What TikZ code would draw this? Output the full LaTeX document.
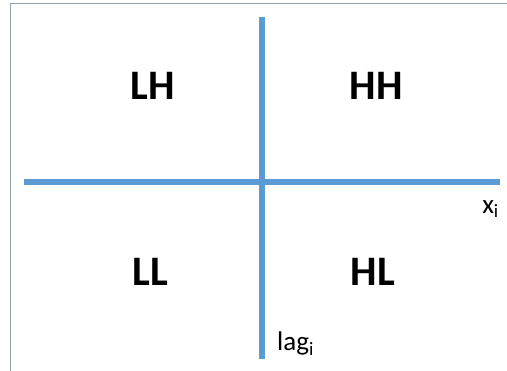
\documentclass[tikz,border=0pt]{standalone}
\usepackage{fontspec}
\setmainfont{Carlito}
\usetikzlibrary{positioning}
\definecolor{axisblue}{RGB}{91,155,213}
\definecolor{framegray}{RGB}{150,160,170}

\begin{document}
\begin{tikzpicture}[x=1pt, y=-1pt,
        quad/.style={inner sep=0pt, font=\fontsize{42}{42}\selectfont\bfseries},
        axislabel/.style={inner sep=0pt, font=\fontsize{27}{27}\selectfont},
        axisline/.style={line width=6pt, axisblue},
    ]
        \useasboundingbox (0,0) rectangle (507,371);
        % frame
        \draw[framegray, line width=1pt] (10,380) -- (10,4) -- (520,4);

        % axes end points
        \coordinate (xleft) at (24,182);
        \coordinate (xright) at (500,182);
        \coordinate (ytop) at (262,17);
        \coordinate (ybot) at (262,359);

        \draw[axisline] (xleft) -- (xright);
        \draw[axisline] (ytop) -- (ybot);

        % quadrant labels
        \node[quad] (lh) at (153,86) {LH};
        \node[quad] (hh) at (376,86) {HH};
        \node[quad] (ll) at (150,272) {LL};
        \node[quad] (hl) at (373,272) {HL};

        % axis labels
        \node[axislabel, anchor=north east] (xlab) at (499,200) {x\textsubscript{i}};
        \node[axislabel, anchor=north west] (ylab) at (277,332) {lag\textsubscript{i}};
    \end{tikzpicture}
\end{document}
